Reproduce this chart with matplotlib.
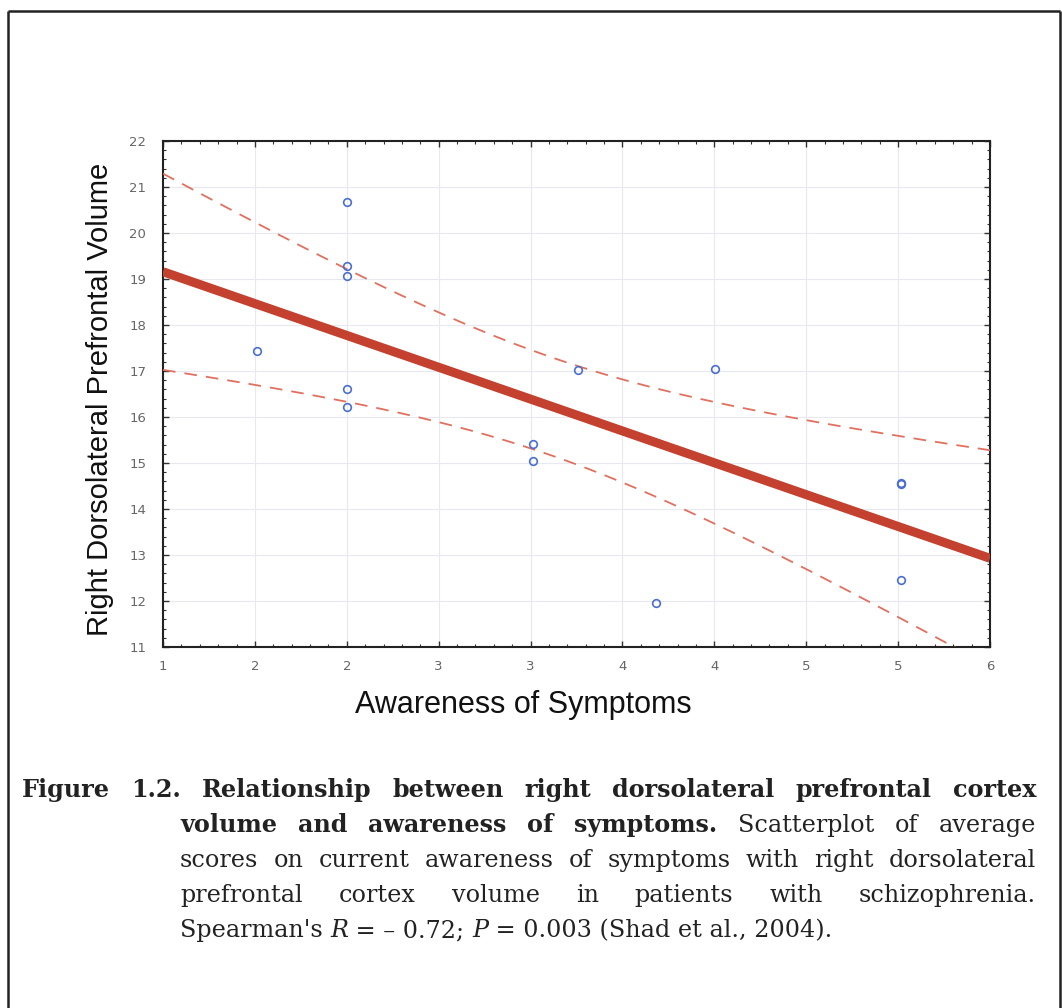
import numpy as np
import matplotlib
matplotlib.use("Agg")
import matplotlib.pyplot as plt
from matplotlib.ticker import AutoMinorLocator, FixedLocator, FixedFormatter

# ---------------- data ----------------
awareness = [1.57, 2.11, 2.11, 2.11, 2.11, 2.11, 3.24, 3.24, 3.51, 3.98, 4.34, 5.46, 5.46, 5.46]
volume = [17.43, 20.67, 19.28, 19.07, 16.61, 16.22, 15.41, 15.04, 17.02, 11.96, 17.04, 14.57, 14.55, 12.46]
xtick_labels = ["1", "2", "2", "3", "3", "4", "4", "5", "5", "6"]
ytick_values = [11, 12, 13, 14, 15, 16, 17, 18, 19, 20, 21, 22]

x_label = "Awareness of Symptoms"
y_label = "Right Dorsolateral Prefrontal Volume"

caption_lines = [
    [("Figure", "b"), ("1.2.", "b"), ("Relationship", "b"), ("between", "b"), ("right", "b"),
     ("dorsolateral", "b"), ("prefrontal", "b"), ("cortex", "b")],
    [("volume", "b"), ("and", "b"), ("awareness", "b"), ("of", "b"), ("symptoms.", "b"),
     ("Scatterplot", "n"), ("of", "n"), ("average", "n")],
    [("scores", "n"), ("on", "n"), ("current", "n"), ("awareness", "n"), ("of", "n"),
     ("symptoms", "n"), ("with", "n"), ("right", "n"), ("dorsolateral", "n")],
    [("prefrontal", "n"), ("cortex", "n"), ("volume", "n"), ("in", "n"), ("patients", "n"),
     ("with", "n"), ("schizophrenia.", "n")],
    [("Spearman's ", "n"), ("R", "i"), (" = \u2013 0.72; ", "n"), ("P", "i"),
     (" = 0.003 (Shad et al., 2004).", "n")],
]
caption_justified = [True, True, True, True, False]

# ---------------- figure ----------------
W, H = 1062, 1008
fig = plt.figure(figsize=(W / 100, H / 100), dpi=100)
fig.patch.set_facecolor("white")

# outer frame
frame_kw = dict(color="#222222", lw=1.8, transform=fig.transFigure, solid_capstyle="butt")
fig.add_artist(plt.Line2D([8 / W, 8 / W], [0, 1 - 11 / H], **frame_kw))
fig.add_artist(plt.Line2D([1060 / W, 1060 / W], [0, 1 - 11 / H], **frame_kw))
fig.add_artist(plt.Line2D([8 / W, 1060 / W], [1 - 11 / H, 1 - 11 / H], **frame_kw))

ax_l, ax_r, ax_t, ax_b = 163, 990, 141, 647
ax = fig.add_axes([ax_l / W, 1 - ax_b / H, (ax_r - ax_l) / W, (ax_b - ax_t) / H])

x = np.array(awareness)
y = np.array(volume)
n = len(x)
slope, intercept = np.polyfit(x, y, 1)
xs = np.linspace(1, 6, 200)
fit = slope * xs + intercept
resid = y - (slope * x + intercept)
s = np.sqrt(np.sum(resid ** 2) / (n - 2))
t_crit = 2.179  # t(0.975, df=12)
sxx = np.sum((x - x.mean()) ** 2)
half = t_crit * s * np.sqrt(1 / n + (xs - x.mean()) ** 2 / sxx)

ax.plot(xs, fit + half, color="#e0705f", lw=1.3, dashes=(7, 5), zorder=3)
ax.plot(xs, fit - half, color="#e0705f", lw=1.3, dashes=(7, 5), zorder=3)
ax.plot(xs, fit, color="#c4402f", lw=6.5, solid_capstyle="butt", zorder=4)
ax.plot(x, y, linestyle="none", marker="o", ms=5.5, mfc="none", mec="#4a6fd0", mew=1.2, zorder=5)

ax.set_xlim(1, 6)
ax.set_ylim(11, 22)
xticks = np.linspace(1, 6, len(xtick_labels))
ax.xaxis.set_major_locator(FixedLocator(xticks))
ax.xaxis.set_major_formatter(FixedFormatter(xtick_labels))
ax.set_yticks(ytick_values)
ax.xaxis.set_minor_locator(AutoMinorLocator(5))
ax.yaxis.set_minor_locator(AutoMinorLocator(5))
ax.tick_params(which="both", direction="in", top=True, right=True, color="#333333")
ax.tick_params(which="major", length=4, width=1.0, labelsize=9.5, labelcolor="#666666")
ax.tick_params(which="minor", length=2.5, width=0.8)
ax.tick_params(axis="y", which="major", pad=12)
ax.tick_params(axis="x", which="major", pad=9)
ax.grid(True, which="major", color="#e8e8f0", lw=0.8)
ax.set_axisbelow(True)
for sp in ax.spines.values():
    sp.set_color("#222222")
    sp.set_linewidth(1.5)

fig.text(523 / W, 1 - 713 / H, x_label, ha="center", va="baseline",
         fontsize=22, family="Liberation Sans", color="#111111")
fig.text(100 / W, 1 - 399 / H, y_label, ha="center", va="center", rotation=90,
         fontsize=21, family="Liberation Sans", color="#111111")

# ---------------- caption (justified) ----------------
renderer = fig.canvas.get_renderer()
cap_fs = 17.2
cap_family = "DejaVu Serif"
styles = {"b": dict(fontweight="bold"), "n": dict(), "i": dict(fontstyle="italic")}
baselines = [797, 832, 867, 902, 937]
left_first, left_rest, right_edge = 22, 180, 1036

for li, words in enumerate(caption_lines):
    x0 = left_first if li == 0 else left_rest
    texts = []
    widths = []
    for w, st in words:
        t = fig.text(0, 1 - baselines[li] / H, w, ha="left", va="baseline", fontsize=cap_fs,
                     family=cap_family, color="#222222", **styles[st])
        widths.append(t.get_window_extent(renderer).width)
        texts.append(t)
    if caption_justified[li]:
        gap = (right_edge - x0 - sum(widths)) / (len(words) - 1)
    else:
        gap = 0.0
    cur = x0
    for t, wd in zip(texts, widths):
        t.set_x(cur / W)
        cur += wd + gap

fig.savefig("out.png", dpi=100, facecolor="white")
